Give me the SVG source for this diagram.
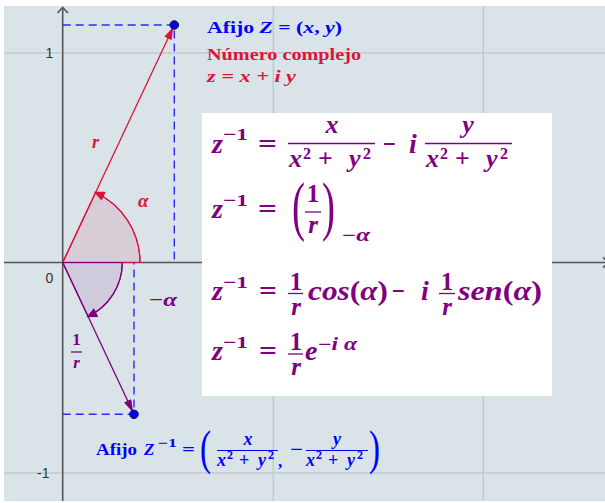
<svg xmlns="http://www.w3.org/2000/svg" width="605" height="503" viewBox="0 0 605 503">
<style>
.bg{fill:#d9e3e8}
.grid{stroke:#c3cacd;stroke-width:1.5}
.axis{stroke:#555555;stroke-width:1.6;fill:none}
.tick{font-family:"Liberation Sans","DejaVu Sans",Arial,sans-serif;font-size:14px;fill:#333333}
.dash{stroke:#2b2bff;stroke-width:1.4;stroke-dasharray:8 5;fill:none}
.m{font-family:"Liberation Serif","DejaVu Serif","Times New Roman",serif;font-weight:bold}
.n{font-family:"Liberation Serif","DejaVu Serif","Times New Roman",serif;font-weight:normal}
.i{font-style:italic}
.pu{fill:#800080}
.rd{fill:#dc143c}
.bl{fill:#0000ff}
.pbar{stroke:#800080;stroke-width:1.3}
.bbar{stroke:#0000ff;stroke-width:1}
.dot{fill:#0000ff;stroke:#1a1a1a;stroke-width:1}
</style>
<defs>
<marker id="ar-red" viewBox="0 0 13 8" refX="15" refY="4" markerWidth="13" markerHeight="8" markerUnits="userSpaceOnUse" orient="auto"><path d="M0,0 L13,4 L0,8 Z" fill="#dc143c"/></marker>
<marker id="ar-pur" viewBox="0 0 13 8" refX="15" refY="4" markerWidth="13" markerHeight="8" markerUnits="userSpaceOnUse" orient="auto"><path d="M0,0 L13,4 L0,8 Z" fill="#800080"/></marker>
<marker id="arc-red" viewBox="0 0 11 10" refX="9" refY="5" markerWidth="11" markerHeight="10" markerUnits="userSpaceOnUse" orient="auto"><path d="M0,0 L11,5 L0,10 Z" fill="#dc143c"/></marker>
<marker id="arc-pur" viewBox="0 0 11 10" refX="9" refY="5" markerWidth="11" markerHeight="10" markerUnits="userSpaceOnUse" orient="auto"><path d="M0,0 L11,5 L0,10 Z" fill="#800080"/></marker>
</defs>

<g id="plane">
<rect class="bg" x="4" y="6" width="601" height="495"/>
<line class="grid" x1="4" y1="53" x2="605" y2="53"/>
<line class="grid" x1="4" y1="473" x2="605" y2="473"/>
<line class="grid" x1="273.3" y1="6" x2="273.3" y2="501"/>
<line class="grid" x1="483.3" y1="6" x2="483.3" y2="501"/>
<line class="axis" x1="4" y1="262.5" x2="605" y2="262.5"/>
<line class="axis" x1="62.7" y1="8" x2="62.7" y2="501"/>
<path class="axis" d="M57.5,13 L62.7,7.5 L67.9,13" stroke-width="1.2"/>
<path class="axis" d="M603,257.3 L608.5,262.5 L603,267.7" stroke-width="1.2"/>
<text class="tick" x="45.5" y="58">1</text>
<text class="tick" x="45.5" y="283">0</text>
<text class="tick" x="37" y="478">-1</text>
</g>

<g id="angle-alpha">
<path d="M62.7,262.5 L140,262.5 A77.3,77.3 0 0 0 95.6,192.5 Z" fill="#dc143c" fill-opacity="0.1" stroke="#dc143c" stroke-width="1.2"/>
<path d="M140,262.5 A77.3,77.3 0 0 0 95.6,192.5" fill="none" stroke="#dc143c" stroke-width="1.2" marker-end="url(#arc-red)"/>
<text class="m i rd" x="138" y="207" font-size="19">α</text>
</g>

<g id="angle-minus-alpha">
<path d="M62.7,262.5 L122.3,262.5 A59.6,59.6 0 0 1 88.1,316.4 Z" fill="#800080" fill-opacity="0.1" stroke="#800080" stroke-width="1.2"/>
<path d="M122.3,262.5 A59.6,59.6 0 0 1 88.1,316.4" fill="none" stroke="#800080" stroke-width="1.2" marker-end="url(#arc-pur)"/>
<text class="m pu" x="149" y="306" font-size="19" textLength="28" lengthAdjust="spacingAndGlyphs">−<tspan class="i">α</tspan></text>
</g>

<g id="projections">
<path class="dash" d="M62.7,25 H174.3 V262.5"/>
<path class="dash" d="M62.7,414.3 H134 V262.5"/>
</g>

<g id="connectors">
<line id="vector-z" x1="62.7" y1="262.5" x2="174.3" y2="25" stroke="#dc143c" stroke-width="1.3" marker-end="url(#ar-red)"/>
<line id="vector-zinv" x1="62.7" y1="262.5" x2="134" y2="414.3" stroke="#800080" stroke-width="1.3" marker-end="url(#ar-pur)"/>
</g>

<g id="label-r">
<text class="m i rd" x="92" y="148" font-size="18">r</text>
</g>

<g id="label-one-over-r">
<text class="m pu" x="76.5" y="345" font-size="17" text-anchor="middle">1</text>
<line class="pbar" x1="71" y1="352" x2="82" y2="352" stroke-width="1"/>
<text class="m i pu" x="76.5" y="368" font-size="17" text-anchor="middle">r</text>
</g>

<g id="point-z">
<circle class="dot" cx="174.3" cy="25" r="4.3"/>
<text class="m bl" x="207" y="33" font-size="17" textLength="135" lengthAdjust="spacingAndGlyphs">Afijo <tspan class="i">Z</tspan> = (<tspan class="i">x</tspan>, <tspan class="i">y</tspan>)</text>
<text class="m rd" x="207" y="60" font-size="17" textLength="154" lengthAdjust="spacingAndGlyphs">Número complejo</text>
<text class="m i rd" x="207" y="82" font-size="17" textLength="89" lengthAdjust="spacingAndGlyphs">z = x + i y</text>
</g>

<g id="point-zinv">
<circle class="dot" cx="134" cy="414.3" r="4.3"/>
<text class="m bl" x="96" y="455" font-size="17" textLength="41" lengthAdjust="spacingAndGlyphs">Afijo</text>
<text class="m i bl" x="144" y="455" font-size="17">Z</text>
<text class="m bl" x="158" y="447" font-size="12" textLength="19" lengthAdjust="spacingAndGlyphs">−1</text>
<text class="m bl" x="182" y="455" font-size="17" textLength="13" lengthAdjust="spacingAndGlyphs">=</text>
<text class="n bl" x="200" y="464" font-size="49" textLength="11" lengthAdjust="spacingAndGlyphs">(</text>
<text class="m i bl" x="248" y="445" font-size="18" text-anchor="middle">x</text>
<line class="bbar" x1="217" y1="450.5" x2="278" y2="450.5"/>
<text class="m bl" y="466" font-size="18"><tspan class="i" x="217">x</tspan><tspan x="227" y="459" font-size="12">2</tspan><tspan x="239" y="466">+</tspan><tspan class="i" x="258">y</tspan><tspan x="268" y="459" font-size="12">2</tspan></text>
<text class="m bl" x="278" y="467" font-size="17">,</text>
<text class="m bl" x="290" y="455" font-size="17" textLength="13" lengthAdjust="spacingAndGlyphs">−</text>
<text class="m i bl" x="337" y="445" font-size="18" text-anchor="middle">y</text>
<line class="bbar" x1="306" y1="450.5" x2="368" y2="450.5"/>
<text class="m bl" y="466" font-size="18"><tspan class="i" x="306">x</tspan><tspan x="316" y="459" font-size="12">2</tspan><tspan x="328" y="466">+</tspan><tspan class="i" x="347">y</tspan><tspan x="357" y="459" font-size="12">2</tspan></text>
<text class="n bl" x="369" y="464" font-size="49" textLength="11" lengthAdjust="spacingAndGlyphs">)</text>
</g>

<g id="formulas">
<rect x="202" y="113" width="350" height="283" fill="#ffffff"/>
<text class="m i pu" x="212" y="153" font-size="28">z</text>
<text class="m pu" x="223" y="140" font-size="17" textLength="25" lengthAdjust="spacingAndGlyphs">−1</text>
<text class="m pu" x="258" y="153" font-size="28" textLength="19" lengthAdjust="spacingAndGlyphs">=</text>
<text class="m i pu" x="332" y="133" font-size="26" text-anchor="middle">x</text>
<line class="pbar" x1="288" y1="143.5" x2="375" y2="143.5"/>
<text class="m pu" y="167" font-size="26"><tspan class="i" x="289">x</tspan><tspan x="303" y="159" font-size="16">2</tspan><tspan x="318" y="167">+</tspan><tspan class="i" x="349">y</tspan><tspan x="363" y="159" font-size="16">2</tspan></text>
<text class="m pu" x="383" y="153" font-size="28" textLength="13" lengthAdjust="spacingAndGlyphs">−</text>
<text class="m i pu" x="409" y="153" font-size="28">i</text>
<text class="m i pu" x="468" y="133" font-size="26" text-anchor="middle">y</text>
<line class="pbar" x1="425" y1="143.5" x2="512" y2="143.5"/>
<text class="m pu" y="167" font-size="26"><tspan class="i" x="426">x</tspan><tspan x="440" y="159" font-size="16">2</tspan><tspan x="455" y="167">+</tspan><tspan class="i" x="486">y</tspan><tspan x="500" y="159" font-size="16">2</tspan></text>
<text class="m i pu" x="212" y="218" font-size="28">z</text>
<text class="m pu" x="223" y="206" font-size="17" textLength="25" lengthAdjust="spacingAndGlyphs">−1</text>
<text class="m pu" x="258" y="218" font-size="28" textLength="19" lengthAdjust="spacingAndGlyphs">=</text>
<text class="n pu" x="292" y="228" font-size="66" textLength="13" lengthAdjust="spacingAndGlyphs">(</text>
<text class="m pu" x="313" y="202" font-size="25" text-anchor="middle">1</text>
<line class="pbar" x1="305" y1="212" x2="321" y2="212"/>
<text class="m i pu" x="313" y="233" font-size="25" text-anchor="middle">r</text>
<text class="n pu" x="322" y="228" font-size="66" textLength="13" lengthAdjust="spacingAndGlyphs">)</text>
<text class="m pu" x="342" y="241" font-size="18" textLength="28" lengthAdjust="spacingAndGlyphs">−<tspan class="i">α</tspan></text>
<text class="m i pu" x="212" y="300" font-size="28">z</text>
<text class="m pu" x="223" y="288" font-size="17" textLength="25" lengthAdjust="spacingAndGlyphs">−1</text>
<text class="m pu" x="259" y="300" font-size="28" textLength="18" lengthAdjust="spacingAndGlyphs">=</text>
<text class="m pu" x="296" y="290" font-size="25" text-anchor="middle">1</text>
<line class="pbar" x1="288" y1="293.5" x2="303" y2="293.5"/>
<text class="m i pu" x="296" y="315" font-size="25" text-anchor="middle">r</text>
<text class="m pu" x="308" y="300" font-size="27" textLength="80" lengthAdjust="spacingAndGlyphs"><tspan class="i">cos</tspan>(<tspan class="i">α</tspan>)</text>
<text class="m pu" x="392" y="300" font-size="28" textLength="13" lengthAdjust="spacingAndGlyphs">−</text>
<text class="m i pu" x="421" y="300" font-size="28">i</text>
<text class="m pu" x="447" y="290" font-size="25" text-anchor="middle">1</text>
<line class="pbar" x1="439" y1="293.5" x2="455" y2="293.5"/>
<text class="m i pu" x="447" y="315" font-size="25" text-anchor="middle">r</text>
<text class="m pu" x="458" y="300" font-size="27" textLength="84" lengthAdjust="spacingAndGlyphs"><tspan class="i">sen</tspan>(<tspan class="i">α</tspan>)</text>
<text class="m i pu" x="212" y="360" font-size="28">z</text>
<text class="m pu" x="223" y="348" font-size="17" textLength="25" lengthAdjust="spacingAndGlyphs">−1</text>
<text class="m pu" x="259" y="360" font-size="28" textLength="18" lengthAdjust="spacingAndGlyphs">=</text>
<text class="m pu" x="296" y="350" font-size="25" text-anchor="middle">1</text>
<line class="pbar" x1="288" y1="354" x2="303" y2="354"/>
<text class="m i pu" x="296" y="375" font-size="25" text-anchor="middle">r</text>
<text class="m i pu" x="305" y="360" font-size="28">e</text>
<text class="m pu" x="318" y="350" font-size="18" textLength="39" lengthAdjust="spacingAndGlyphs">−<tspan class="i">i</tspan> <tspan class="i">α</tspan></text>
</g>
</svg>
